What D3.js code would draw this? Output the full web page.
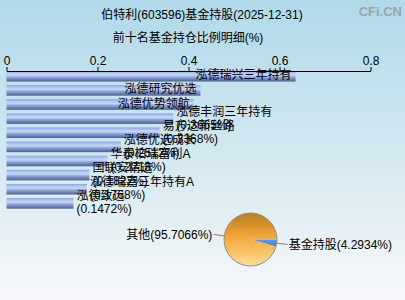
<!DOCTYPE html>
<html>
<head>
<meta charset="utf-8">
<script src="https://cdn.jsdelivr.net/npm/d3@7/dist/d3.min.js"></script>
<style>
  html, body { margin: 0; padding: 0; background: #fff; }
  svg { display: block; }
  text { font-family: "Liberation Sans", "Noto Sans CJK SC", sans-serif; }
</style>
</head>
<body>
<div id="chart"></div>
<script>
// top ten funds, holding ratio (%)
var funds = ['泓德瑞兴三年持有', '泓德研究优选', '泓德优势领航', '泓德丰润三年持有', '易方达新丝路',
    '泓德优选成长', '华泰柏瑞富利A', '国联安精选', '泓德瑞嘉三年持有A', '泓德致远'];
var ratios = [0.6354, 0.4262, 0.4115, 0.3665, 0.3368, 0.2512, 0.2218, 0.1822, 0.1768, 0.1472];
var axisTicks = [0, 0.2, 0.4, 0.6, 0.8];

// pie: fund holding vs the rest
var pieNames = ['基金持股', '其他'];
var pieValues = [4.2934, 95.7066];

var width = 405, height = 300;

var svg = d3.select('#chart')
    .append('svg')
    .attr('width', width)
    .attr('height', height);

var defs = svg.append('defs');

var bg = defs.append('linearGradient').attr('id', 'bg')
    .attr('x1', 0).attr('y1', 0).attr('x2', 0).attr('y2', 1);
bg.append('stop').attr('offset', '0%').attr('stop-color', '#b1d9e9');
bg.append('stop').attr('offset', '55%').attr('stop-color', '#d6e9f1');
bg.append('stop').attr('offset', '100%').attr('stop-color', '#f8f8fa');

var barGrad = defs.append('linearGradient').attr('id', 'bar')
    .attr('x1', 0).attr('y1', 0).attr('x2', 0).attr('y2', 1);
[['0%', '#86a2e2'], ['22%', '#b4c8f2'], ['40%', '#c9d6f2'], ['60%', '#8ea4d6'],
 ['85%', '#6279b0'], ['100%', '#4c6090']].forEach(s => {
    barGrad.append('stop').attr('offset', s[0]).attr('stop-color', s[1]);
});

var pieGrad = defs.append('linearGradient').attr('id', 'pieOrange')
    .attr('x1', 0).attr('y1', 0).attr('x2', 0).attr('y2', 1);
pieGrad.append('stop').attr('offset', '0%').attr('stop-color', '#b97b22');
pieGrad.append('stop').attr('offset', '45%').attr('stop-color', '#f3a73a');
pieGrad.append('stop').attr('offset', '100%').attr('stop-color', '#ffdc96');

var blueGrad = defs.append('linearGradient').attr('id', 'pieBlue')
    .attr('x1', 0).attr('y1', 0).attr('x2', 0).attr('y2', 1);
blueGrad.append('stop').attr('offset', '0%').attr('stop-color', '#5a9af5');
blueGrad.append('stop').attr('offset', '100%').attr('stop-color', '#3f7ae0');

svg.append('rect')
    .attr('width', width)
    .attr('height', height)
    .attr('fill', 'url(#bg)');

// watermark
svg.append('text')
    .attr('x', 402)
    .attr('y', 16)
    .attr('text-anchor', 'end')
    .attr('font-size', 13)
    .attr('font-weight', 'bold')
    .attr('fill', '#9aa3ab')
    .text('CFi.CN');

svg.append('text')
    .attr('x', 202)
    .attr('y', 19)
    .attr('text-anchor', 'middle')
    .attr('font-size', 12)
    .attr('fill', '#000')
    .text('伯特利(603596)基金持股(2025-12-31)');

svg.append('text')
    .attr('x', 188)
    .attr('y', 42)
    .attr('text-anchor', 'middle')
    .attr('font-size', 12)
    .attr('fill', '#000')
    .text('前十名基金持仓比例明细(%)');

// bar chart
var x = d3.scaleLinear().domain([0, 0.8]).range([6.5, 370.5]);
var y = d3.scaleBand().domain(funds).range([69.2, 210.4]).paddingInner(0.25).paddingOuter(0.125);

var bars = svg.append('g');
bars.selectAll('rect')
    .data(funds)
    .enter()
    .append('rect')
    .attr('x', x(0))
    .attr('y', d => y(d))
    .attr('width', (d, i) => x(ratios[i]) - x(0))
    .attr('height', y.bandwidth())
    .attr('fill', 'url(#bar)');

var labels = svg.append('g').attr('font-size', 12).attr('fill', '#000');
funds.forEach((name, i) => {
    var v = ratios[i];
    var cy = y(name) + y.bandwidth() / 2;
    if (v >= 0.4) {
        // long bars carry their name inside
        labels.append('text')
            .attr('x', x(v) - 4)
            .attr('y', cy + 3)
            .attr('text-anchor', 'end')
            .text(name);
    } else {
        labels.append('text')
            .attr('x', x(v) + 3)
            .attr('y', cy - 3)
            .text(name);
        labels.append('text')
            .attr('x', x(v) + 3)
            .attr('y', cy + 10)
            .text('(' + v.toFixed(4) + '%)');
    }
});

var axis = svg.append('g')
    .attr('transform', 'translate(0,71)')
    .call(d3.axisTop(x).tickValues(axisTicks).tickSize(4).tickSizeOuter(0).tickFormat(d3.format('')));
axis.select('.domain').attr('stroke', '#000');
axis.selectAll('.tick line').attr('stroke', '#000');
axis.selectAll('.tick text')
    .attr('font-size', 12)
    .attr('fill', '#000')
    .attr('font-family', '"Liberation Sans", sans-serif')
    .attr('dy', '0.1em');

// pie
var cx = 250.5, cyPie = 239.5, r = 26.5;
var pie = d3.pie().sort(null).startAngle(Math.PI / 2).endAngle(Math.PI / 2 + 2 * Math.PI);
var arcs = pie(pieValues);
var arc = d3.arc().innerRadius(0).outerRadius(r);

var pg = svg.append('g').attr('transform', 'translate(' + cx + ',' + cyPie + ')');

pg.selectAll('path')
    .data(arcs)
    .enter()
    .append('path')
    .attr('d', arc)
    .attr('fill', (d, i) => i === 0 ? 'url(#pieBlue)' : 'url(#pieOrange)')
    .attr('stroke', 'none');

pg.append('circle')
    .attr('r', r)
    .attr('fill', 'none')
    .attr('stroke', '#8f8f8f')
    .attr('stroke-width', 1);

arcs.forEach((d, i) => {
    var a = (d.startAngle + d.endAngle) / 2;
    var sx = Math.sin(a), sy = -Math.cos(a);
    var x1 = sx * r, y1 = sy * r;
    var x2 = sx * (r + 11), y2 = sy * (r + 11);
    pg.append('line')
        .attr('x1', x1).attr('y1', y1)
        .attr('x2', x2).attr('y2', y2)
        .attr('stroke', '#808080');
    pg.append('text')
        .attr('x', x2 + (sx > 0 ? 1 : -1))
        .attr('y', y2 + 4.5)
        .attr('text-anchor', sx > 0 ? 'start' : 'end')
        .attr('font-size', 12)
        .attr('fill', '#000')
        .text(pieNames[i] + '(' + pieValues[i].toFixed(4) + '%)');
});
</script>
</body>
</html>
